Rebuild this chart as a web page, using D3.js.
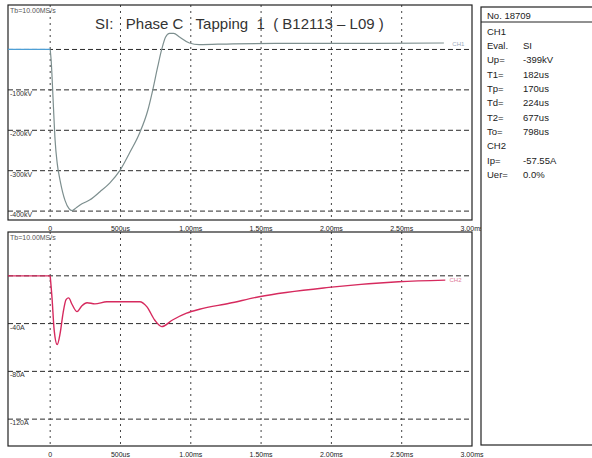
<!DOCTYPE html>
<html>
<head>
<meta charset="utf-8">
<script src="https://cdn.jsdelivr.net/npm/d3@7"></script>
<style>
  body { margin: 0; background: #fff; }
  svg { display: block; font-family: "Liberation Sans", Arial, sans-serif; }
</style>
</head>
<body>
<svg id="chart" width="592" height="458"></svg>
<script>
// time axis (ms)
const timeTicks = [0, 0.5, 1.0, 1.5, 2.0, 2.5, 3.0];
const timeLabels = ["0", "500us", "1.00ms", "1.50ms", "2.00ms", "2.50ms", "3.00ms"];

// CH1 voltage (kV)
const ch1Time = [-0.3, 0, 0.007, 0.021, 0.035, 0.05, 0.071, 0.106, 0.134, 0.156, 0.184, 0.226, 0.283, 0.354, 0.425, 0.495, 0.566, 0.637, 0.694, 0.729, 0.764, 0.793, 0.821, 0.849, 0.878, 0.92, 0.99, 1.06, 1.3, 1.8, 2.3, 2.8];
const ch1Volt = [0, 0, -27, -126, -225, -282, -325, -374, -394, -399, -392, -382, -372, -352, -330, -300, -255, -206, -151, -101, -44, 0, 31, 40, 40, 31, 16, 12, 14, 15, 15, 16];
const voltTicks = [0, -100, -200, -300, -400];
const voltLabels = ["", "-100kV", "-200kV", "-300kV", "-400kV"];

// CH2 current (A)
const ch2Time = [-0.3, 0, 0.014, 0.028, 0.05, 0.071, 0.092, 0.113, 0.131, 0.156, 0.191, 0.226, 0.262, 0.318, 0.403, 0.637, 0.687, 0.743, 0.793, 0.87, 0.97, 1.062, 1.274, 1.486, 1.982, 2.477, 2.81];
const ch2Amp = [0, 0, -20, -45, -57.55, -48, -31, -20, -18.5, -24, -30, -25, -22.5, -23.5, -21.7, -21.7, -25.8, -37, -42.5, -37, -31.3, -28, -23, -17.5, -9.7, -5, -3.6];
const ampTicks = [0, -40, -80, -120];
const ampLabels = ["", "-40A", "-80A", "-120A"];

// info panel
const infoLabels = ["CH1", "Eval.", "Up=", "T1=", "Tp=", "Td=", "T2=", "To=", "CH2", "Ip=", "Uer="];
const infoValues = ["", "SI", "-399kV", "182us", "170us", "224us", "677us", "798us", "", "-57.55A", "0.0%"];

const svg = d3.select("#chart");
const x = d3.scaleLinear().domain([-0.3, 3.0]).range([8, 472]);
const yV = d3.scaleLinear().domain([-422, 110]).range([220, 5]);
const yA = d3.scaleLinear().domain([-142.5, 36.7]).range([446, 232]);

function panel(y, ticks, labels, top, bottom) {
  const g = svg.append("g");
  // horizontal grid
  g.selectAll(".hg").data(ticks).enter().append("line")
    .attr("x1", x(-0.3)).attr("x2", x(3.0))
    .attr("y1", d => y(d)).attr("y2", d => y(d))
    .attr("stroke", "#2a2a2a").attr("stroke-width", 1).attr("stroke-dasharray", "5,3");
  // vertical grid
  g.selectAll(".vg").data(timeTicks.slice(0, -1)).enter().append("line")
    .attr("x1", d => x(d)).attr("x2", d => x(d))
    .attr("y1", top).attr("y2", bottom)
    .attr("stroke", "#444").attr("stroke-width", 1).attr("stroke-dasharray", "2,4");
  // frame
  g.append("rect").attr("x", x(-0.3)).attr("y", top)
    .attr("width", x(3.0) - x(-0.3)).attr("height", bottom - top)
    .attr("fill", "none").attr("stroke", "#222").attr("stroke-width", 1.2);
  // y labels
  g.selectAll(".yl").data(ticks).enter().append("text")
    .attr("x", 10).attr("y", d => y(d) + 6)
    .attr("font-size", 7).attr("fill", "#333")
    .text((d, i) => labels[i]);
  // x labels
  g.selectAll(".xl").data(timeTicks).enter().append("text")
    .attr("x", d => x(d)).attr("y", bottom + 11)
    .attr("text-anchor", "middle").attr("font-size", 7).attr("fill", "#222")
    .text((d, i) => timeLabels[i]);
  g.append("text").attr("x", 10).attr("y", top + 8)
    .attr("font-size", 7).attr("fill", "#555").text("Tb=10.00MS/s");
}

panel(yV, voltTicks, voltLabels, 5, 220);
panel(yA, ampTicks, ampLabels, 232, 446);

// CH1 trace
const ch1 = ch1Time.map((t, i) => [t, ch1Volt[i]]);
const lineV = d3.line().x(d => x(d[0])).y(d => yV(d[1]));
svg.append("path").datum(ch1.filter(d => d[0] <= 0))
  .attr("d", lineV).attr("fill", "none").attr("stroke", "#4d9fd6").attr("stroke-width", 1.3);
svg.append("path").datum(ch1.filter(d => d[0] >= 0))
  .attr("d", lineV.curve(d3.curveMonotoneX))
  .attr("fill", "none").attr("stroke", "#7d8f8f").attr("stroke-width", 1.2);
svg.append("text").attr("x", x(2.86)).attr("y", yV(14) + 2)
  .attr("font-size", 6).attr("fill", "#9ab").text("CH1");

// CH2 trace
const ch2 = ch2Time.map((t, i) => [t, ch2Amp[i]]);
const lineA = d3.line().x(d => x(d[0])).y(d => yA(d[1]));
svg.append("path").datum(ch2.filter(d => d[0] <= 0))
  .attr("d", lineA).attr("fill", "none").attr("stroke", "#d62a5e").attr("stroke-width", 1.4);
svg.append("path").datum(ch2.filter(d => d[0] >= 0))
  .attr("d", lineA.curve(d3.curveMonotoneX))
  .attr("fill", "none").attr("stroke", "#d62a5e").attr("stroke-width", 1.4);
svg.append("text").attr("x", x(2.84)).attr("y", yA(-3.6) + 2)
  .attr("font-size", 6).attr("fill", "#e07a98").text("CH2");

// title
svg.append("text").attr("x", 95).attr("y", 29)
  .attr("font-size", 15).attr("fill", "#333").style("white-space", "pre")
  .text("SI:   Phase C   Tapping  1  ( B12113 \u2013 L09 )");

// info panel
const info = svg.append("g");
info.append("rect").attr("x", 481).attr("y", 7).attr("width", 130).attr("height", 438)
  .attr("fill", "#fff").attr("stroke", "#222").attr("stroke-width", 1.2);
info.append("line").attr("x1", 481).attr("x2", 592).attr("y1", 22).attr("y2", 22)
  .attr("stroke", "#222").attr("stroke-width", 1);
info.append("text").attr("x", 487).attr("y", 19).attr("font-size", 9.5).attr("fill", "#222").text("No. 18709");
info.selectAll(".il").data(infoLabels).enter().append("text")
  .attr("x", 487).attr("y", (d, i) => 34.5 + i * 14.35)
  .attr("font-size", 9.5).attr("fill", "#222").text(d => d);
info.selectAll(".iv").data(infoValues).enter().append("text")
  .attr("x", 523).attr("y", (d, i) => 34.5 + i * 14.35)
  .attr("font-size", 9.5).attr("fill", "#222").text(d => d);
</script>
</body>
</html>
